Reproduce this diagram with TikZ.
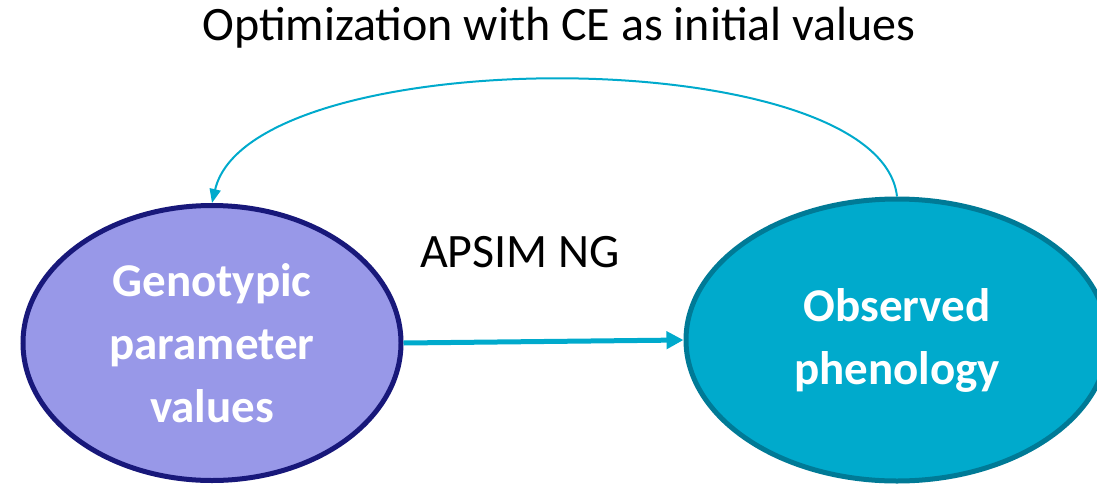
\documentclass[tikz,border=0pt]{standalone}
\usepackage{fontspec}
\setmainfont{Carlito}
\usetikzlibrary{arrows.meta,shapes.geometric}
\definecolor{lfill}{HTML}{9898E8}
\definecolor{lborder}{HTML}{18187A}
\definecolor{rfill}{HTML}{00AACC}
\definecolor{rborder}{HTML}{007A96}
\definecolor{arrowc}{HTML}{00AACC}
\begin{document}
\begin{tikzpicture}[x=1pt,y=-1pt,
  blob/.style={ellipse, inner sep=0pt, line width=5pt, text=white, font=\fontsize{47}{63}\selectfont\bfseries, align=center},
  lbl/.style={font=\fontsize{48}{52}\selectfont, text=black, inner sep=0pt}]
\useasboundingbox (0,0) rectangle (1097,485);
\clip (0,0) rectangle (1097,485);
\node[blob, draw=lborder, fill=lfill, minimum width=378pt, minimum height=275pt] (geno) at (212,343) {Genotypic\\parameter\\values};
\node[blob, draw=rborder, fill=rfill, minimum width=422pt, minimum height=282pt] (obs) at (897,340) {Observed\\phenology};
\node[lbl] (top) at (559,28) {Optimization with CE as initial values};
\node[lbl] (apsim) at (520,252) {APSIM NG};
\draw[arrowc, line width=5pt, -{Triangle[length=17pt,width=17pt]}] (geno.east) -- (obs.west);
\draw[arrowc, line width=2pt, -{Triangle[length=14pt,width=11pt]}] (obs.north) .. controls (880,40) and (250,40) .. (geno.north);
\end{tikzpicture}
\end{document}
